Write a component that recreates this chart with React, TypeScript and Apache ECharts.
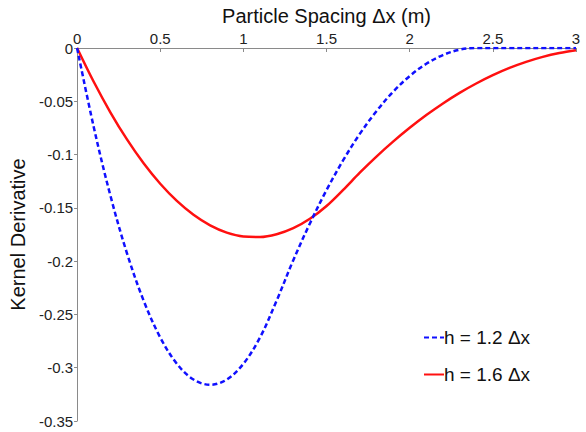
import React, { useEffect, useRef } from "react";
import * as echarts from "echarts";

// Particle spacing samples (m)
const spacing = [
  0, 0.1, 0.2, 0.3, 0.4, 0.5, 0.6, 0.7, 0.8, 0.9, 1.0,
  1.1, 1.2, 1.3, 1.4, 1.5, 1.6, 1.7, 1.8, 1.9, 2.0,
  2.1, 2.2, 2.3, 2.4, 2.5, 2.6, 2.7, 2.8, 2.9, 3.0,
];

// Kernel derivative, h = 1.2 Δx
const derivH12 = [
  0, -0.0741, -0.1383, -0.1926, -0.237, -0.2716, -0.2963, -0.3111, -0.316, -0.3111, -0.2963,
  -0.2716, -0.237, -0.1991, -0.1646, -0.1333, -0.1053, -0.0806, -0.0593, -0.0411, -0.0263,
  -0.0148, -0.0066, -0.0016, 0, 0, 0, 0, 0, 0, 0,
];

// Kernel derivative, h = 1.6 Δx
const derivH16 = [
  0, -0.0317, -0.0603, -0.0858, -0.1082, -0.1274, -0.1435, -0.1565, -0.1664, -0.1732, -0.1768,
  -0.1773, -0.1747, -0.169, -0.1602, -0.1482, -0.1331, -0.117, -0.1019, -0.0879, -0.0749,
  -0.0629, -0.052, -0.0421, -0.0333, -0.0255, -0.0187, -0.013, -0.0083, -0.0047, -0.0021,
];

const seriesNames = ["h = 1.2 \u0394x", "h = 1.6 \u0394x"];

const FONT = "Liberation Sans, Arial, sans-serif";

export default function App() {
  const ref = useRef<HTMLDivElement>(null);

  useEffect(() => {
    if (!ref.current) return;
    const chart = echarts.init(ref.current, null, { renderer: "svg" });
    const pairs = (ys: number[]) => spacing.map((x, i) => [x, ys[i]]);

    chart.setOption({
      animation: false,
      backgroundColor: "#ffffff",
      textStyle: { fontFamily: FONT },
      grid: { left: 76, top: 48, width: 500, height: 373 },
      legend: {
        orient: "vertical",
        left: 418,
        top: 323,
        itemWidth: 20,
        itemHeight: 10,
        itemGap: 18,
        itemStyle: { opacity: 0 },
        textStyle: { fontFamily: FONT, fontSize: 19, color: "#111", padding: [0, 0, 0, -5] },
        data: seriesNames,
      },
      xAxis: {
        type: "value",
        position: "top",
        min: 0,
        max: 3,
        interval: 0.5,
        name: "Particle Spacing \u0394x (m)",
        nameLocation: "middle",
        nameGap: 22,
        nameTextStyle: { fontFamily: FONT, fontSize: 20, color: "#111" },
        axisLine: { show: true, onZero: false, lineStyle: { color: "#8a8a8a", width: 1 } },
        axisTick: { show: true, inside: true, length: 4, lineStyle: { color: "#8a8a8a" } },
        axisLabel: { fontFamily: FONT, fontSize: 15, color: "#222", margin: 2 },
        splitLine: { show: false },
      },
      yAxis: {
        type: "value",
        min: -0.35,
        max: 0,
        interval: 0.05,
        name: "Kernel Derivative",
        nameLocation: "middle",
        nameGap: 44,
        nameTextStyle: { fontFamily: FONT, fontSize: 20, color: "#111" },
        axisLine: { show: true, onZero: false, lineStyle: { color: "#8a8a8a", width: 1 } },
        axisTick: { show: true, inside: false, length: 3, lineStyle: { color: "#8a8a8a" } },
        axisLabel: { fontFamily: FONT, fontSize: 15, color: "#222", margin: 4 },
        splitLine: { show: false },
      },
      series: [
        {
          name: seriesNames[0],
          type: "line",
          data: pairs(derivH12),
          smooth: 0.35,
          symbol: "none",
          lineStyle: { color: "#1010ff", width: 2.5, type: [5, 3] },
          itemStyle: { color: "#1010ff" },
          z: 3,
        },
        {
          name: seriesNames[1],
          type: "line",
          data: pairs(derivH16),
          smooth: 0.35,
          symbol: "none",
          lineStyle: { color: "#ff1010", width: 2.5 },
          itemStyle: { color: "#ff1010" },
          z: 2,
        },
      ],
    });

    return () => chart.dispose();
  }, []);

  return (
    <div
      ref={ref}
      style={{ position: "fixed", left: 0, top: 0, width: 586, height: 432 }}
    />
  );
}
